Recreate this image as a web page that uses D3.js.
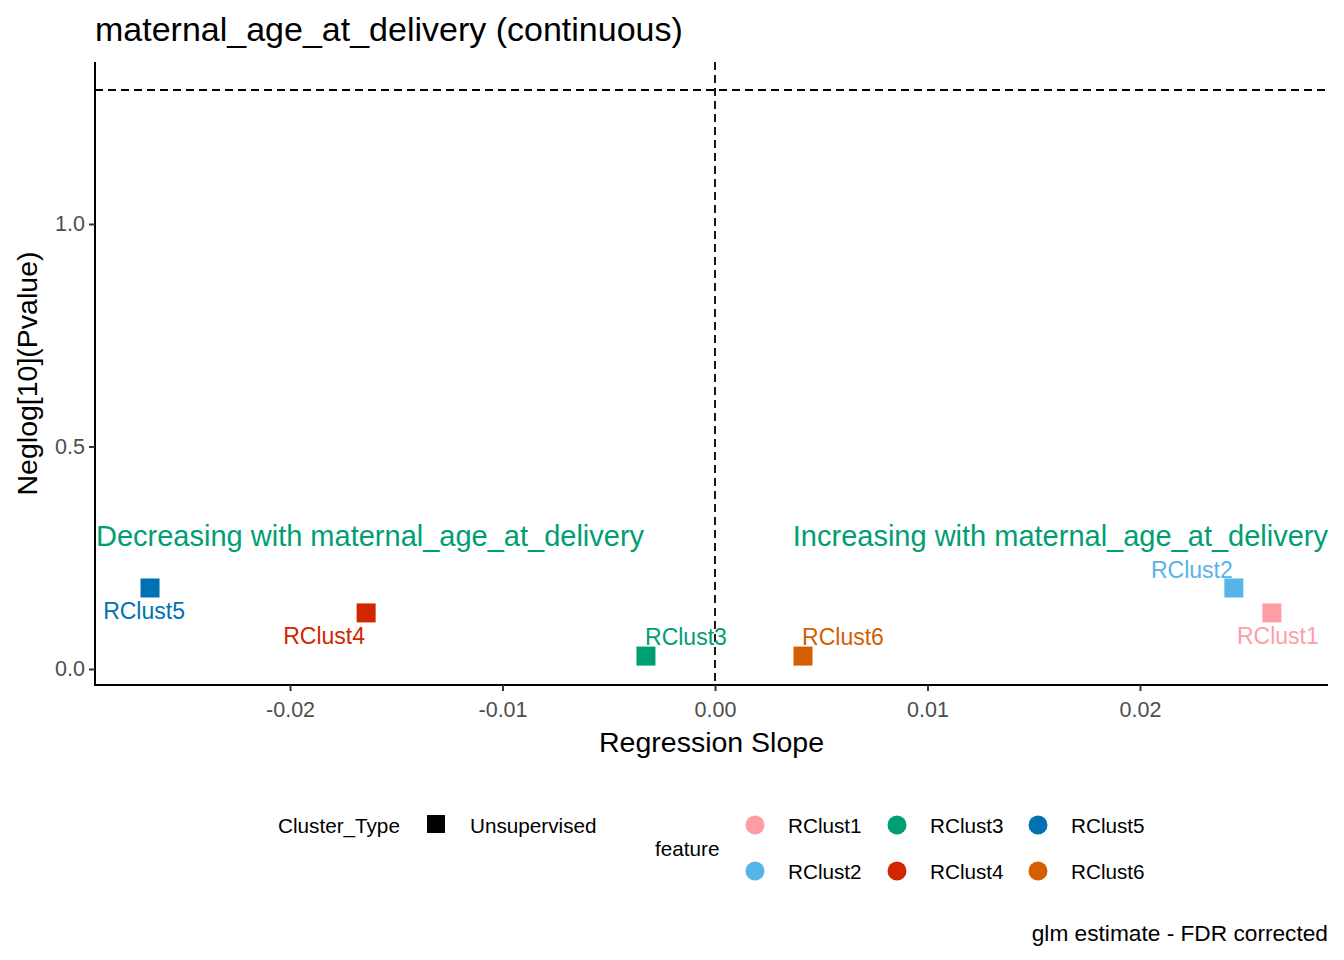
<!DOCTYPE html>
<html>
<head>
<meta charset="utf-8">
<script src="https://cdn.jsdelivr.net/npm/d3@7"></script>
<style>
  body { margin: 0; background: #fff; }
  text { font-family: "Liberation Sans", Arial, sans-serif; }
</style>
</head>
<body>
<div id="chart"></div>
<script>
// Data
const features = ["RClust1", "RClust2", "RClust3", "RClust4", "RClust5", "RClust6"];
const slopes = [0.02621, 0.02442, -0.00325, -0.01642, -0.02659, 0.00414];
const negLogP = [0.126, 0.182, 0.029, 0.126, 0.182, 0.029];
const colors = ["#FF9DA7", "#56B4E9", "#009E73", "#D12600", "#0072B2", "#D55E00"];
const xTicks = [-0.02, -0.01, 0.0, 0.01, 0.02];
const yTicks = [0.0, 0.5, 1.0];
const threshold = 1.30103;

// label offsets (dx, dy) in px, following the repel layout
const labelPos = [
  { dx: 6, dy: 31 },
  { dx: -42, dy: -10 },
  { dx: 40, dy: -11 },
  { dx: -42, dy: 31 },
  { dx: -6, dy: 31 },
  { dx: 40, dy: -11 },
];

const data = features.map((f, i) => ({
  feature: f, slope: slopes[i], p: negLogP[i], color: colors[i], lab: labelPos[i],
}));

// Dimensions
const dimensions = { width: 1344, height: 960, left: 95, right: 1328, top: 62, bottom: 685 };

const svg = d3.select("#chart").append("svg")
  .attr("width", dimensions.width)
  .attr("height", dimensions.height);

const xScale = d3.scaleLinear().domain([-0.02918, 0.02885]).range([dimensions.left, dimensions.right]);
const yScale = d3.scaleLinear().domain([-0.036, 1.364]).range([dimensions.bottom, dimensions.top]);

// Title
svg.append("text").attr("x", 95).attr("y", 41)
  .attr("font-size", 34).attr("fill", "#000")
  .text("maternal_age_at_delivery (continuous)");

// Reference lines
svg.append("line")
  .attr("x1", dimensions.left).attr("x2", dimensions.right)
  .attr("y1", yScale(threshold)).attr("y2", yScale(threshold))
  .attr("stroke", "#000").attr("stroke-width", 1.8).attr("stroke-dasharray", "8,5");
svg.append("line")
  .attr("x1", xScale(0)).attr("x2", xScale(0))
  .attr("y1", dimensions.top).attr("y2", dimensions.bottom)
  .attr("stroke", "#000").attr("stroke-width", 1.8).attr("stroke-dasharray", "8,5");

// Axes
const xAxis = svg.append("g")
  .attr("transform", `translate(0,${dimensions.bottom})`)
  .call(d3.axisBottom(xScale).tickValues(xTicks).tickSize(6).tickSizeOuter(0)
    .tickFormat(d => d3.format(".2f")(d).replace("−", "-")));
const yAxis = svg.append("g")
  .attr("transform", `translate(${dimensions.left},0)`)
  .call(d3.axisLeft(yScale).tickValues(yTicks).tickSize(6).tickSizeOuter(0).tickFormat(d3.format(".1f")));

[xAxis, yAxis].forEach(g => {
  g.select(".domain").attr("stroke", "#000").attr("stroke-width", 2);
  g.selectAll(".tick line").attr("stroke", "#333").attr("stroke-width", 2);
  g.selectAll(".tick text").attr("font-size", 21.5).attr("fill", "#4D4D4D")
    .attr("font-family", "Liberation Sans, Arial, sans-serif");
});
xAxis.selectAll(".tick text").attr("dy", "1.05em");
yAxis.selectAll(".tick text").attr("dx", "-0.05em");
// extend axis lines to the corner
xAxis.select(".domain").attr("d", `M${dimensions.left - 1},0H${dimensions.right}`);
yAxis.select(".domain").attr("d", `M0,${dimensions.top}V${dimensions.bottom + 1}`);

// Axis titles
svg.append("text").attr("x", (dimensions.left + dimensions.right) / 2).attr("y", 752)
  .attr("text-anchor", "middle").attr("font-size", 28.5).text("Regression Slope");
svg.append("text")
  .attr("transform", `translate(37,${(dimensions.top + dimensions.bottom) / 2}) rotate(-90)`)
  .attr("text-anchor", "middle").attr("font-size", 28.5).text("Neglog[10](Pvalue)");

// Direction annotations
svg.append("text").attr("x", 96).attr("y", 546)
  .attr("font-size", 29).attr("fill", "#009E73")
  .text("Decreasing with maternal_age_at_delivery");
svg.append("text").attr("x", 1328).attr("y", 546).attr("text-anchor", "end")
  .attr("font-size", 29).attr("fill", "#009E73")
  .text("Increasing with maternal_age_at_delivery");

// Points
const sq = 19;
svg.append("g").selectAll("rect").data(data).join("rect")
  .attr("x", d => xScale(d.slope) - sq / 2)
  .attr("y", d => yScale(d.p) - sq / 2)
  .attr("width", sq).attr("height", sq)
  .attr("fill", d => d.color);

// Labels
svg.append("g").selectAll("text").data(data).join("text")
  .attr("x", d => xScale(d.slope) + d.lab.dx)
  .attr("y", d => yScale(d.p) + d.lab.dy)
  .attr("text-anchor", "middle")
  .attr("font-size", 23).attr("fill", d => d.color)
  .text(d => d.feature);

// Legend: Cluster_Type
const legend = svg.append("g").attr("font-size", 20.7).attr("fill", "#000");
legend.append("text").attr("x", 278).attr("y", 833).text("Cluster_Type");
legend.append("rect").attr("x", 427).attr("y", 815).attr("width", 18).attr("height", 18).attr("fill", "#000");
legend.append("text").attr("x", 470).attr("y", 833).text("Unsupervised");

// Legend: feature
legend.append("text").attr("x", 655).attr("y", 856).text("feature");
const colX = [755, 897, 1038];
const rowY = [825, 871];
const lg = legend.selectAll("g.item").data(data).join("g").attr("class", "item")
  .attr("transform", (d, i) => `translate(${colX[Math.floor(i / 2)]},${rowY[i % 2]})`);
lg.append("circle").attr("r", 9.5).attr("fill", d => d.color);
lg.append("text").attr("x", 33).attr("y", 8).text(d => d.feature);

// Caption
svg.append("text").attr("x", 1328).attr("y", 941).attr("text-anchor", "end")
  .attr("font-size", 22.7).text("glm estimate - FDR corrected");
</script>
</body>
</html>
